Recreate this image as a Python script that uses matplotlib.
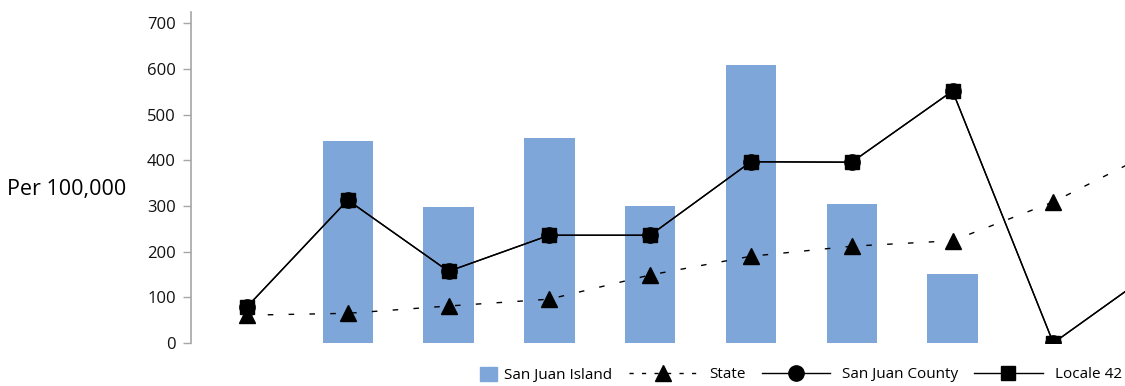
import numpy as np
import matplotlib.pyplot as plt
from matplotlib.lines import Line2D
from matplotlib.patches import Patch

plt.rcParams['font.family'] = ['Open Sans', 'DejaVu Sans']

# Values (per 100,000); category 9 lies past the right edge
x = np.arange(10)
san_juan_island = [np.nan, 442, 298, 448, 300, 610, 304, 151, np.nan, np.nan]
state = [61, 65, 81, 96, 149, 190, 212, 224, 309, 420]
san_juan_county = [79, 313, 157, 236, 236, 397, 396, 552, 0, 158]
locale_42 = [79, 313, 157, 236, 236, 397, 396, 552, 0, 158]
y_ticks = [0, 100, 200, 300, 400, 500, 600, 700]

bar_color = '#7ea6d8'

fig = plt.figure(figsize=(11.25, 3.86), dpi=100)
ax = fig.add_axes([191 / 1125, 1 - 343 / 386, 1 - 191 / 1125, (343 - 12) / 386])

ax.bar(x, san_juan_island, width=0.5, color=bar_color, zorder=1)
ax.plot(x, state, color='black', lw=1.0, linestyle=(0, (4, 11)),
        marker='^', markersize=11, zorder=3)
ax.plot(x, san_juan_county, color='black', lw=1.0, marker='o',
        markersize=11, zorder=4)
ax.plot(x, locale_42, color='black', lw=1.0, marker='s',
        markersize=10, zorder=5)

ax.set_xlim(-0.555, 8.711)
ax.set_ylim(0, 725)
ax.set_yticks(y_ticks)
ax.set_xticks([])
for side in ['top', 'right', 'bottom']:
    ax.spines[side].set_visible(False)
ax.spines['left'].set_color('#a6a6a6')
ax.spines['left'].set_linewidth(1.2)
ax.tick_params(axis='y', length=6, width=1.0, color='#a6a6a6',
               labelsize=12, labelcolor='#111111', pad=5)

ax.set_ylabel('Per 100,000', rotation=0, fontsize=15.5, ha='right', va='center')
ax.yaxis.set_label_coords(-0.069, 0.465)

# legend: square patch first, then the three line series
fig.legend(handles=[Patch(color=bar_color, label='San Juan Island')],
           loc='center right', bbox_to_anchor=(612 / 1125, 11 / 386),
           frameon=False, fontsize=11, handlelength=1.1,
           handleheight=1.1, handletextpad=0.45, borderpad=0,
           borderaxespad=0)
handles = [
    Line2D([], [], color='black', lw=1.0, linestyle=(0, (3, 6)),
           marker='^', markersize=11, label='State'),
    Line2D([], [], color='black', lw=1.0, marker='o', markersize=11,
           label='San Juan County'),
    Line2D([], [], color='black', lw=1.0, marker='s', markersize=10,
           label='Locale 42'),
]
fig.legend(handles=handles, loc='center right',
           bbox_to_anchor=(1122 / 1125, 11 / 386), ncol=3, frameon=False,
           fontsize=11, handlelength=4.5, handletextpad=0.8,
           columnspacing=1.0, borderpad=0, borderaxespad=0)

fig.savefig('out.png', dpi=100)
